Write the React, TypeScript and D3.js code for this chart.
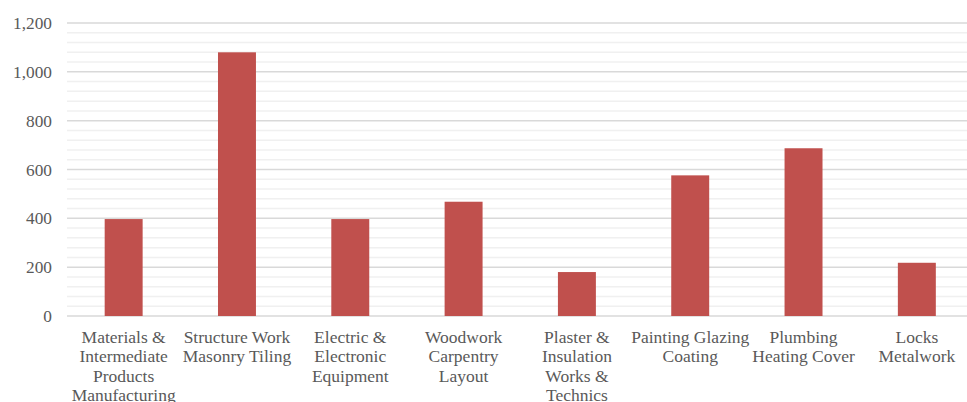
import React from "react";
import * as d3 from "d3";

const categories: string[][] = [
  ["Materials &", "Intermediate", "Products", "Manufacturing"],
  ["Structure Work", "Masonry Tiling"],
  ["Electric &", "Electronic", "Equipment"],
  ["Woodwork", "Carpentry", "Layout"],
  ["Plaster &", "Insulation", "Works &", "Technics"],
  ["Painting Glazing", "Coating"],
  ["Plumbing", "Heating Cover"],
  ["Locks", "Metalwork"],
];
const values: number[] = [397, 1080, 397, 468, 180, 576, 687, 218];
const majorTicks: number[] = [0, 200, 400, 600, 800, 1000, 1200];
const minorTicks: number[] = d3.range(0, 1201, 40).filter((v) => v % 200 !== 0);

const W = 967;
const H = 402;

export default function App() {
  const x = d3
    .scaleBand<number>()
    .domain(values.map((_, i) => i))
    .range([67, 973.5])
    .paddingInner(0.665)
    .paddingOuter(0.3325);
  const y = d3.scaleLinear().domain([0, 1200]).range([316, 23]);
  const fmt = d3.format(",");
  const font = "Liberation Serif, DejaVu Serif, Times New Roman, serif";
  return (
    <svg
      width={W}
      height={H}
      style={{ position: "absolute", left: 0, top: 0, fontFamily: font }}
    >
      <rect width={W} height={H} fill="#fff" />
      {minorTicks.map((t) => (
        <line key={"m" + t} x1={67} x2={W} y1={y(t)} y2={y(t)} stroke="#f0f0f0" strokeWidth={1.5} />
      ))}
      {majorTicks.map((t) => (
        <line key={"M" + t} x1={67} x2={W} y1={y(t)} y2={y(t)} stroke="#d9d9d9" strokeWidth={1.5} />
      ))}
      {values.map((v, i) => (
        <rect
          key={i}
          x={x(i)}
          y={y(v)}
          width={x.bandwidth()}
          height={y(0) - y(v)}
          fill="#c0504d"
        />
      ))}
      {majorTicks.map((t) => (
        <text
          key={"t" + t}
          x={52}
          y={y(t)}
          dy="0.35em"
          textAnchor="end"
          fontSize={17.3}
          fill="#595959"
          style={{ fontFamily: font }}
        >
          {fmt(t)}
        </text>
      ))}
      {categories.map((lines, i) => (
        <text
          key={"c" + i}
          x={(x(i) as number) + x.bandwidth() / 2}
          y={343}
          textAnchor="middle"
          fontSize={17.5}
          fill="#595959"
          style={{ fontFamily: font }}
        >
          {lines.map((l, j) => (
            <tspan key={j} x={(x(i) as number) + x.bandwidth() / 2} y={343 + j * 19.3}>
              {l}
            </tspan>
          ))}
        </text>
      ))}
    </svg>
  );
}
